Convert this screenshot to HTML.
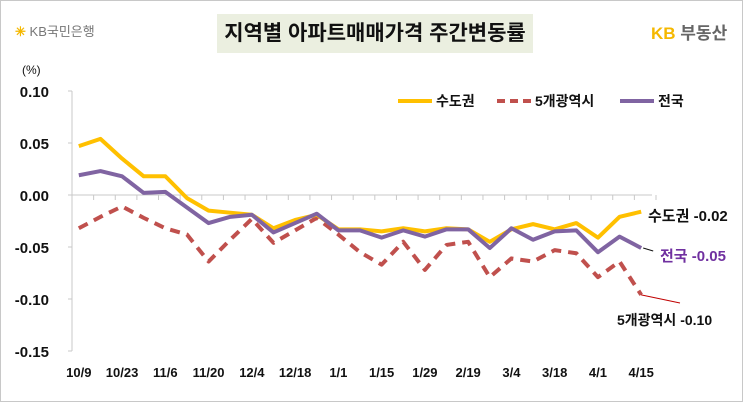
<!DOCTYPE html>
<html><head><meta charset="utf-8"><style>
body{margin:0;background:#fff;font-family:"Liberation Sans","Noto Sans CJK KR",sans-serif;}
#wrap{position:relative;width:741px;height:400px;border:1px solid #c8c8c8;overflow:hidden;}
.t{position:absolute;white-space:nowrap;}
</style></head><body>
<div id="wrap">
<div class="t" style="left:14px;top:20px;font-size:13px;color:#777;"><span style="color:#f5b800;font-weight:bold;">✳</span> KB국민은행</div>
<div class="t" style="left:216px;top:13px;width:316px;height:39px;background:#ebefe0;text-align:center;line-height:39px;font-size:21px;font-weight:bold;color:#111;">지역별 아파트매매가격 주간변동률</div>
<div class="t" style="left:650px;top:18px;font-size:17px;font-weight:bold;"><span style="color:#f5b800;">KB</span> <span style="color:#666;">부동산</span></div>
<svg id="chart" width="743" height="402" style="position:absolute;left:-1px;top:-1px;"></svg>
</div>
<script>
const categories=["10/9","10/16","10/23","10/30","11/6","11/13","11/20","11/27","12/4","12/11","12/18","12/25","1/1","1/8","1/15","1/22","1/29","2/5","2/19","2/26","3/4","3/11","3/18","3/25","4/1","4/8","4/15"];
const tickLabels=["10/9","10/23","11/6","11/20","12/4","12/18","1/1","1/15","1/29","2/19","3/4","3/18","4/1","4/15"];
const seoulMetro=[0.047,0.054,0.035,0.018,0.018,-0.003,-0.015,-0.017,-0.019,-0.032,-0.024,-0.019,-0.033,-0.033,-0.035,-0.032,-0.035,-0.032,-0.033,-0.045,-0.033,-0.028,-0.033,-0.027,-0.041,-0.021,-0.016];
const fiveCities=[-0.032,-0.021,-0.011,-0.022,-0.032,-0.038,-0.064,-0.043,-0.023,-0.046,-0.034,-0.022,-0.038,-0.055,-0.067,-0.045,-0.072,-0.048,-0.045,-0.079,-0.061,-0.064,-0.053,-0.056,-0.079,-0.064,-0.096];
const national=[0.019,0.023,0.018,0.002,0.003,-0.012,-0.027,-0.021,-0.019,-0.036,-0.027,-0.018,-0.034,-0.034,-0.041,-0.034,-0.040,-0.033,-0.033,-0.051,-0.032,-0.043,-0.035,-0.034,-0.055,-0.040,-0.051];
const yTicks=[0.10,0.05,0.00,-0.05,-0.10,-0.15];
const NS="http://www.w3.org/2000/svg";
const svg=document.getElementById('chart');
const x0=68,x1=652,yTop=91,yBot=351,vMax=0.10,vMin=-0.15;
const step=(x1-x0)/categories.length;
function xs(i){return x0+step*(i+0.5);}
function ys(v){return yTop+(vMax-v)/(vMax-vMin)*(yBot-yTop);}
function el(tag,attrs){const e=document.createElementNS(NS,tag);for(const k in attrs)e.setAttribute(k,attrs[k]);svg.appendChild(e);return e;}
function txt(x,y,s,size,color,anchor,weight){const e=el('text',{x:x,y:y,'font-size':size,fill:color,'text-anchor':anchor||'start','font-weight':weight||'bold','font-family':'"Liberation Sans","Noto Sans CJK KR",sans-serif'});e.textContent=s;return e;}
let a=el('line',{x1:x0+4,y1:yTop,x2:x0+4,y2:yBot,stroke:'#c8c8c8'});

let z=el('line',{x1:x0+4,y1:ys(0),x2:x1,y2:ys(0),stroke:'#c8c8c8'});

yTicks.forEach(v=>{
  const tk=el('line',{x1:x0,y1:ys(v),x2:x0+4,y2:ys(v),stroke:'#c8c8c8'});
  
  const t=txt(49,ys(v)+6,v.toFixed(2),15,'#111','end');
  
});
for(let i=0;i<=categories.length;i++){
  const tk=el('line',{x1:x0+4+i*step,y1:ys(0),x2:x0+4+i*step,y2:ys(0)+5,stroke:'#c8c8c8'});
  
}
tickLabels.forEach(l=>{
  const i=categories.indexOf(l);
  const t=txt(xs(i),377,l,13,'#111','middle');
  
});
const u=txt(22,74,'(%)',12,'#111','start','normal');

function series(vals,color,dash,name){
  const p=el('polyline',{points:vals.map((v,i)=>xs(i)+','+ys(v)).join(' '),fill:'none',stroke:color,'stroke-width':4,'stroke-linejoin':'round','stroke-dasharray':dash||''});
  
}
series(fiveCities,'#c0504d','10 7','series-5-metro-cities');
series(seoulMetro,'#ffc000','','series-seoul-metro');
series(national,'#8064a2','','series-national');
function legend(x,color,dash,label,name){
  const l=el('line',{x1:x,y1:101,x2:x+34,y2:101,stroke:color,'stroke-width':4,'stroke-dasharray':dash||''});
  
  const t=txt(x+38,106,label,14,'#111');
  
}
legend(398,'#ffc000','','수도권','legend-seoul-metro');
legend(497,'#c0504d','8 5','5개광역시','legend-5-metro-cities');
legend(620,'#8064a2','','전국','legend-national');
const n=categories.length-1;
let e1=txt(648,221,'수도권 -0.02',15,'#111');

let c1=el('line',{x1:xs(n)+2,y1:ys(national[n]),x2:xs(n)+12,y2:ys(national[n])+3,stroke:'#111'});

let e2=txt(660,261,'전국 -0.05',15,'#7030a0');

let c2=el('line',{x1:xs(n),y1:ys(fiveCities[n]),x2:680,y2:303,stroke:'#c00000'});

let e3=txt(617,325,'5개광역시 -0.10',14,'#111');

</script>
</body></html>
